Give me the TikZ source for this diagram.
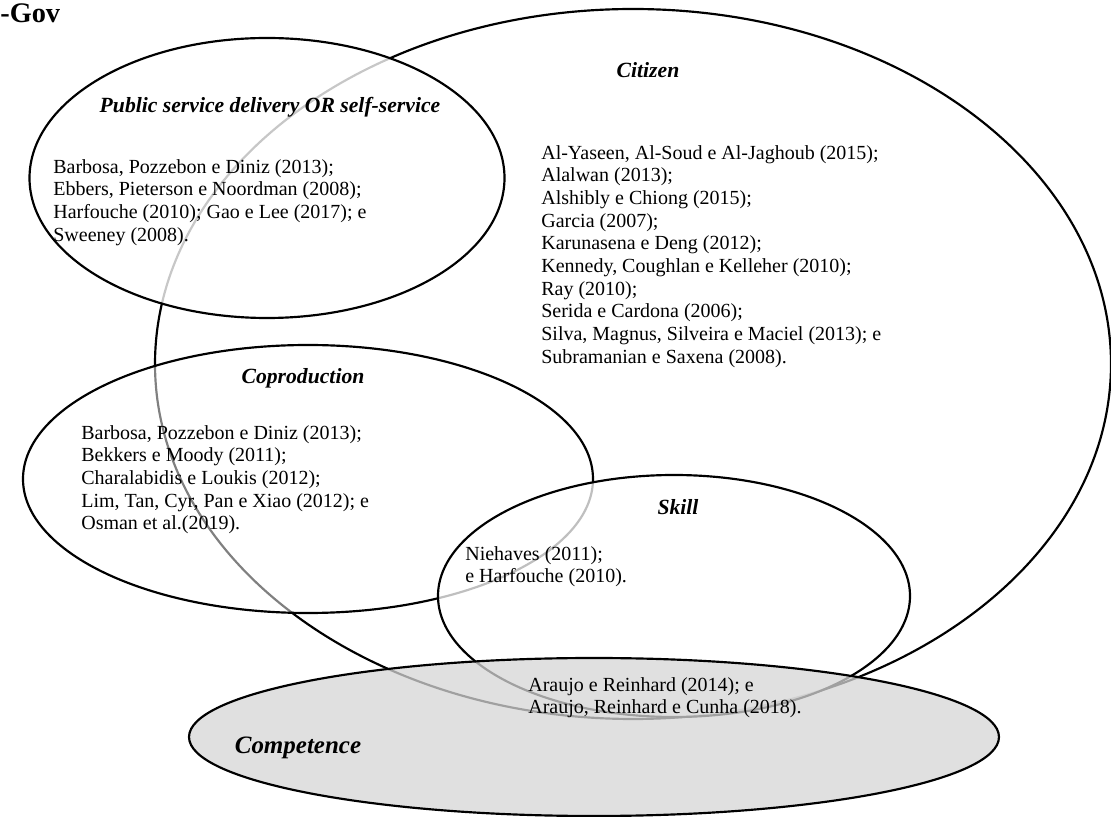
\documentclass[tikz,border=0pt]{standalone}
\usepackage{fontspec}
\setmainfont{Liberation Serif}
\usetikzlibrary{shapes.geometric}
\begin{document}
\begin{tikzpicture}[x=0.6pt,y=-0.6pt,
  setline/.style={draw=black,line width=1.3pt,ellipse,inner sep=0pt},
  reftext/.style={font=\fontsize{12}{13.6}\selectfont,align=left,anchor=north west,inner sep=0pt},
  settitle/.style={font=\fontsize{13}{15}\selectfont\bfseries\itshape,inner sep=0pt}]
\useasboundingbox (0,0) rectangle (1111,817);
\clip (0,0) rectangle (1111,817);

% heading
\node[font=\fontsize{17}{20}\selectfont\bfseries,anchor=base west,inner sep=0pt] (gov) at (0,23) {-Gov};

% Citizen
\node[setline,fill=white,minimum width=573.6pt,minimum height=426pt] (citizen) at (633,364) {};
\node[settitle] (citizenT) at (648,70) {Citizen};
\node[reftext] (citizenL) at (541,145) {Al-Yaseen, Al-Soud e Al-Jaghoub (2015);\\
Alalwan (2013);\\
Alshibly e Chiong (2015);\\
Garcia (2007);\\
Karunasena e Deng (2012);\\
Kennedy, Coughlan e Kelleher (2010);\\
Ray (2010);\\
Serida e Cardona (2006);\\
Silva, Magnus, Silveira e Maciel (2013); e\\
Subramanian e Saxena (2008).};

% Public service delivery
\node[setline,fill=white,fill opacity=0.78,minimum width=285pt,minimum height=168pt] (public) at (267,178) {};
\node[settitle] (publicT) at (270,107) {Public service delivery OR self-service};
\node[reftext] (publicL) at (53,159) {Barbosa, Pozzebon e Diniz (2013);\\
Ebbers, Pieterson e Noordman (2008);\\
Harfouche (2010); Gao e Lee (2017); e\\
Sweeney (2008).};

% Coproduction
\node[setline,fill=white,fill opacity=0.5,minimum width=342pt,minimum height=160.8pt] (copro) at (308,479) {};
\node[settitle] (coproT) at (303,378) {Coproduction};
\node[reftext] (coproL) at (81,425) {Barbosa, Pozzebon e Diniz (2013);\\
Bekkers e Moody (2011);\\
Charalabidis e Loukis (2012);\\
Lim, Tan, Cyr, Pan e Xiao (2012); e\\
Osman et al.(2019).};

% Skill
\node[setline,fill=white,fill opacity=0.75,minimum width=283.2pt,minimum height=145.2pt] (skill) at (674,596) {};
\node[settitle] (skillT) at (678,507) {Skill};
\node[reftext] (skillL) at (465,546) {Niehaves (2011);\\
e Harfouche (2010).};

% Competence
\node[setline,fill=black!16,fill opacity=0.75,minimum width=486pt,minimum height=94.8pt] (compet) at (594,737) {};
\node[reftext] (competL) at (528,677) {Araujo e Reinhard (2014); e\\
Araujo, Reinhard e Cunha (2018).};
\node[settitle,font=\fontsize{15}{18}\selectfont\bfseries\itshape] (competT) at (298,748) {Competence};
\end{tikzpicture}
\end{document}
